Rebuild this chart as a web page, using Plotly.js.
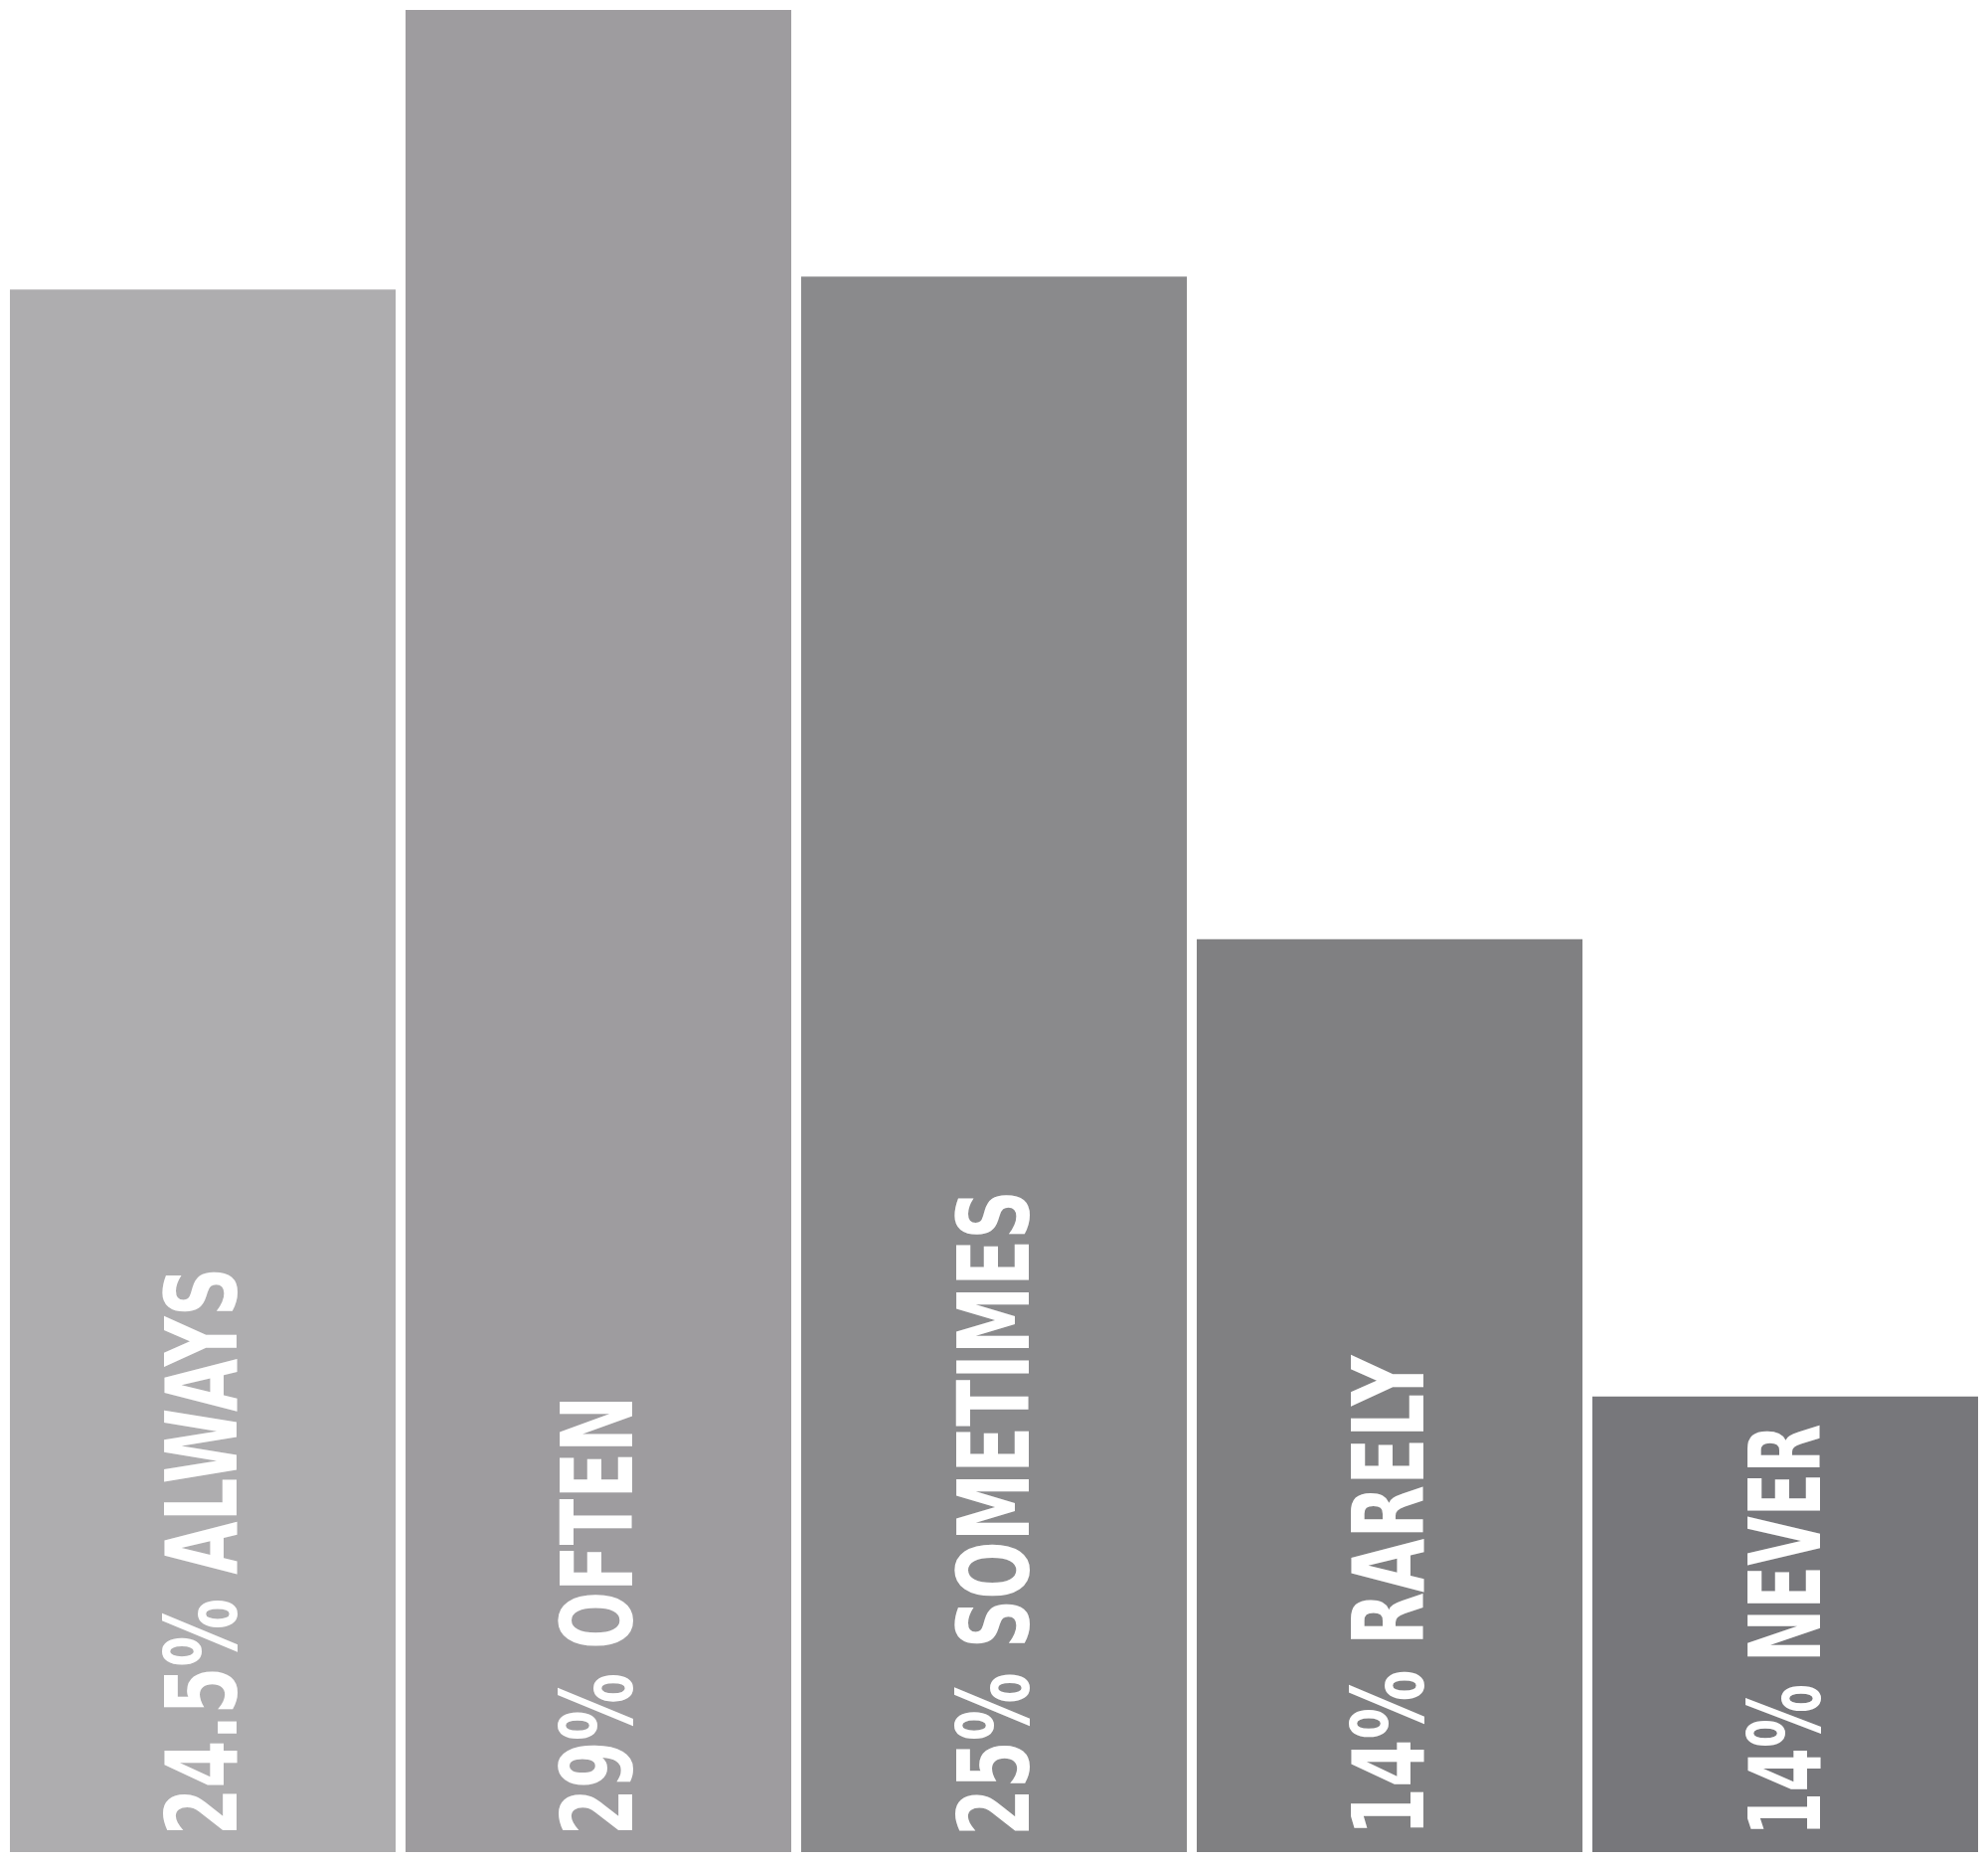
<!DOCTYPE html>
<html>
<head>
<meta charset="utf-8">
<script src="https://cdn.plot.ly/plotly-3.0.1.min.js"></script>
<style>
  html, body { margin: 0; padding: 0; background: #ffffff; }
  #chart { width: 2000px; height: 1873px; }
</style>
</head>
<body>
<div id="chart"></div>
<script>
// Categories and values
const categories = ["ALWAYS", "OFTEN", "SOMETIMES", "RARELY", "NEVER"];
const percentLabels = ["24.5%", "29%", "25%", "14%", "14%"];
// bar heights as drawn in the picture (in percent units)
const barHeights = [24.6, 29, 24.8, 14.37, 7.17];
const barColors = ["#aeadaf", "#9e9c9f", "#8a8a8c", "#808082", "#77777b"];

// horizontal condensing of each label (the original uses a condensed face)
const labelCondense = { ALWAYS: 0.765, OFTEN: 0.76, SOMETIMES: 0.765, RARELY: 0.775, NEVER: 0.71 };

const labelFont = {
  family: "'Liberation Sans Narrow', 'Arial Narrow', 'DejaVu Sans Condensed', sans-serif",
  size: 100,
  color: "#ffffff",
  weight: 700
};

const trace = {
  type: "bar",
  x: categories,
  y: barHeights,
  marker: { color: barColors, line: { width: 0 } },
  hoverinfo: "none"
};

const annotations = categories.map((c, i) => ({
  x: c,
  y: 0,
  xref: "x",
  yref: "y",
  text: "<b>" + percentLabels[i] + " " + c + "</b>",
  showarrow: false,
  textangle: -90,
  xanchor: "center",
  yanchor: "bottom",
  yshift: 14,
  font: labelFont
}));

const layout = {
  width: 2000,
  height: 1873,
  margin: { l: 5, r: 5, t: 10, b: 10, pad: 0 },
  paper_bgcolor: "#ffffff",
  plot_bgcolor: "#ffffff",
  bargap: 0.025,
  showlegend: false,
  xaxis: { showticklabels: false, showgrid: false, zeroline: false, showline: false, ticks: "" },
  yaxis: { range: [0, 29], showticklabels: false, showgrid: false, zeroline: false, showline: false, ticks: "" },
  annotations: annotations
};

Plotly.newPlot("chart", [trace], layout, { staticPlot: true, displayModeBar: false }).then(gd => {
  // condense the label glyphs along the text direction (keeps text start fixed)
  gd.querySelectorAll("g.annotation").forEach((g, i) => {
    const t = g.querySelector("text.annotation-text");
    if (!t) return;
    const idx = Number(g.getAttribute("data-index"));
    const cat = categories[isNaN(idx) ? i : idx];
    t.style.transformBox = "fill-box";
    t.style.transformOrigin = "0% 50%";
    t.style.transform = "scaleX(" + (labelCondense[cat] || 0.76) + ")";
  });
});
</script>
</body>
</html>
